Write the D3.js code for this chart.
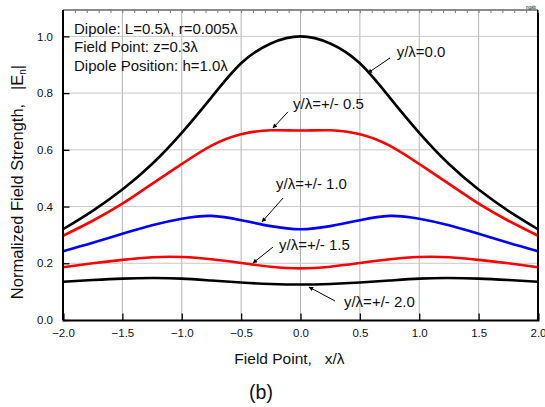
<!DOCTYPE html>
<html>
<head>
<meta charset="utf-8">
<script src="https://cdn.jsdelivr.net/npm/d3@7"></script>
<style>
  body { margin: 0; background: #fff; }
  svg { display: block; }
  text { font-family: "Liberation Sans", Arial, sans-serif; fill: #111; }
</style>
</head>
<body>
<svg id="chart" width="545" height="407"></svg>
<script>
// Field point positions x/λ (half profile, mirrored about x = 0)
const xHalf = [-2.0, -1.75, -1.5, -1.25, -1.0, -0.75, -0.5, -0.25, 0.0];

// Normalized field strength |En| for each lateral offset y/λ
const y00 = [0.320, 0.385, 0.460, 0.550, 0.660, 0.785, 0.905, 0.975, 1.000];
const y05 = [0.297, 0.350, 0.410, 0.480, 0.550, 0.615, 0.655, 0.669, 0.668];
const y10 = [0.242, 0.272, 0.304, 0.334, 0.357, 0.367, 0.352, 0.331, 0.320];
const y15 = [0.186, 0.200, 0.212, 0.221, 0.222, 0.214, 0.201, 0.188, 0.182];
const y20 = [0.135, 0.141, 0.146, 0.148, 0.146, 0.139, 0.132, 0.127, 0.125];

const seriesNames = ["y/λ=0.0", "y/λ=+/- 0.5", "y/λ=+/- 1.0", "y/λ=+/- 1.5", "y/λ=+/- 2.0"];
const seriesColors = ["#000000", "#ff0000", "#0000ff", "#ff0000", "#000000"];
const seriesValues = [y00, y05, y10, y15, y20];

const xTicks = [-2.0, -1.5, -1.0, -0.5, 0.0, 0.5, 1.0, 1.5, 2.0];
const yTicks = [0.0, 0.2, 0.4, 0.6, 0.8, 1.0];

const infoLines = ["Dipole: L=0.5λ, r=0.005λ", "Field Point: z=0.3λ", "Dipole Position: h=1.0λ"];

// Label anchor (data units), arrow tail and arrow tip on the curve
const labelPos = [
  { tx: 0.81, ty: 0.926, ax: 0.754, ay: 0.924, bx: 0.568, by: 0.871 },
  { tx: -0.063, ty: 0.744, ax: -0.105, ay: 0.734, bx: -0.232, by: 0.677 },
  { tx: -0.206, ty: 0.462, ax: -0.147, ay: 0.430, bx: -0.324, by: 0.346 },
  { tx: -0.181, ty: 0.247, ax: -0.232, ay: 0.257, bx: -0.400, by: 0.201 },
  { tx: 0.366, ty: 0.046, ax: 0.291, ay: 0.067, bx: 0.072, by: 0.116 }
];

const svg = d3.select("#chart");
const margin = { left: 63, right: 7, top: 10, bottom: 87 };
const W = 545, H = 407;

const x = d3.scaleLinear().domain([-2, 2]).range([margin.left, W - margin.right]);
const y = d3.scaleLinear().domain([0, 1.093]).range([H - margin.bottom, margin.top]);

const x0 = x(-2), x1 = x(2), yb = y(0), yt = margin.top;

// Grid
const grid = svg.append("g");
grid.selectAll(".gx").data(xTicks.slice(1, -1)).join("line")
  .attr("x1", d => x(d)).attr("x2", d => x(d))
  .attr("y1", yt).attr("y2", yb)
  .attr("stroke", "#b4b4b4").attr("stroke-width", 1);
grid.selectAll(".gy").data(yTicks.slice(1)).join("line")
  .attr("x1", x0).attr("x2", x1)
  .attr("y1", d => y(d)).attr("y2", d => y(d))
  .attr("stroke", "#c8c8c8").attr("stroke-width", 1);

// Curves (mirror the half profile)
const line = d3.line()
  .x(d => x(d[0])).y(d => y(d[1]))
  .curve(d3.curveNatural);

seriesValues.forEach((vals, i) => {
  const left = xHalf.map((xv, j) => [xv, vals[j]]);
  const right = xHalf.slice(0, -1).map((xv, j) => [-xv, vals[j]]).reverse();
  svg.append("path")
    .datum(left.concat(right))
    .attr("d", line)
    .attr("fill", "none")
    .attr("stroke", seriesColors[i])
    .attr("stroke-width", 2.6);
});

// Axes frame
const frame = svg.append("g");
frame.append("line").attr("x1", x0).attr("x2", x1).attr("y1", yt).attr("y2", yt)
  .attr("stroke", "#666").attr("stroke-width", 1.4);
frame.append("line").attr("x1", x1).attr("x2", x1).attr("y1", yt).attr("y2", yb)
  .attr("stroke", "#000").attr("stroke-width", 2);

// Bottom axis: major + minor ticks pointing inward
const xMinor = d3.range(-2, 2.001, 0.1).map(v => +v.toFixed(2));
const bottomAx = svg.append("g").attr("transform", `translate(0,${yb})`);
bottomAx.call(d3.axisBottom(x).tickValues(xMinor).tickSize(-3.5).tickFormat(""))
  .call(g => g.select(".domain").remove());
bottomAx.call(d3.axisBottom(x).tickValues(xTicks).tickSize(-6.5).tickPadding(9)
  .tickFormat(d3.format(".1f")))
  .call(g => g.select(".domain").attr("stroke-width", 2))
  .call(g => g.selectAll("line").attr("stroke-width", 1.3))
  .call(g => g.selectAll("text").attr("font-size", 11.5)
    .attr("font-family", "Liberation Sans, Arial, sans-serif"));

// Top axis minor ticks
const topAx = svg.append("g").attr("transform", `translate(0,${yt})`);
topAx.call(d3.axisTop(x).tickValues(xMinor).tickSize(-3).tickFormat(""))
  .call(g => g.select(".domain").remove())
  .call(g => g.selectAll("line").attr("stroke", "#777"));

// Left axis: major + minor ticks pointing inward
const yMinor = d3.range(0, 1.0501, 0.05).map(v => +v.toFixed(2));
const leftAx = svg.append("g").attr("transform", `translate(${x0},0)`);
leftAx.call(d3.axisLeft(y).tickValues(yMinor).tickSize(-3.5).tickFormat(""))
  .call(g => g.select(".domain").remove());
leftAx.call(d3.axisLeft(y).tickValues(yTicks).tickSize(-6.5).tickPadding(10)
  .tickFormat(d3.format(".1f")))
  .call(g => g.select(".domain").attr("d", `M0,${yb}V${yt}`).attr("stroke-width", 2))
  .call(g => g.selectAll("line").attr("stroke-width", 1.3))
  .call(g => g.selectAll("text").attr("font-size", 11.5)
    .attr("font-family", "Liberation Sans, Arial, sans-serif"));

// Info block
svg.append("g").selectAll("text").data(infoLines).join("text")
  .attr("x", 74).attr("y", (d, i) => 34 + i * 18.4)
  .attr("font-size", 15)
  .text(d => d);

// Curve labels with arrows
svg.append("defs").append("marker")
  .attr("id", "ah").attr("viewBox", "0 0 10 10")
  .attr("refX", 9).attr("refY", 5)
  .attr("markerWidth", 6).attr("markerHeight", 4.5)
  .attr("markerUnits", "userSpaceOnUse")
  .attr("orient", "auto")
  .append("path").attr("d", "M0,0L10,5L0,10z").attr("fill", "#000");

const ann = svg.append("g");
labelPos.forEach((p, i) => {
  ann.append("line")
    .attr("x1", x(p.ax)).attr("y1", y(p.ay))
    .attr("x2", x(p.bx)).attr("y2", y(p.by))
    .attr("stroke", "#000").attr("stroke-width", 1)
    .attr("marker-end", "url(#ah)");
  ann.append("text")
    .attr("x", x(p.tx)).attr("y", y(p.ty))
    .attr("font-size", 15)
    .text(seriesNames[i]);
});

// Axis titles
svg.append("text")
  .attr("x", 289.5).attr("y", 364)
  .attr("text-anchor", "middle").attr("font-size", 15.5)
  .attr("xml:space", "preserve")
  .text("Field Point,   x/λ");

const yTitle = svg.append("text")
  .attr("transform", "translate(23,182) rotate(-90)")
  .attr("text-anchor", "middle").attr("font-size", 16.5)
  .attr("xml:space", "preserve");
yTitle.append("tspan").text("Normalized Field Strength,   |E");
yTitle.append("tspan").attr("font-size", 10).attr("dy", 3).text("n");
yTitle.append("tspan").attr("dy", -3).text("|");

// Small program tag in the corner
svg.append("text")
  .attr("x", x1 - 2).attr("y", yt - 1.5)
  .attr("text-anchor", "end").attr("font-size", 4.5).attr("fill", "#555")
  .text("ngab");

// Panel caption
svg.append("text")
  .attr("x", 261).attr("y", 399)
  .attr("text-anchor", "middle")
  .attr("font-family", "Liberation Serif, Times New Roman, serif")
  .attr("font-size", 19.5)
  .text("(b)");
</script>
</body>
</html>
